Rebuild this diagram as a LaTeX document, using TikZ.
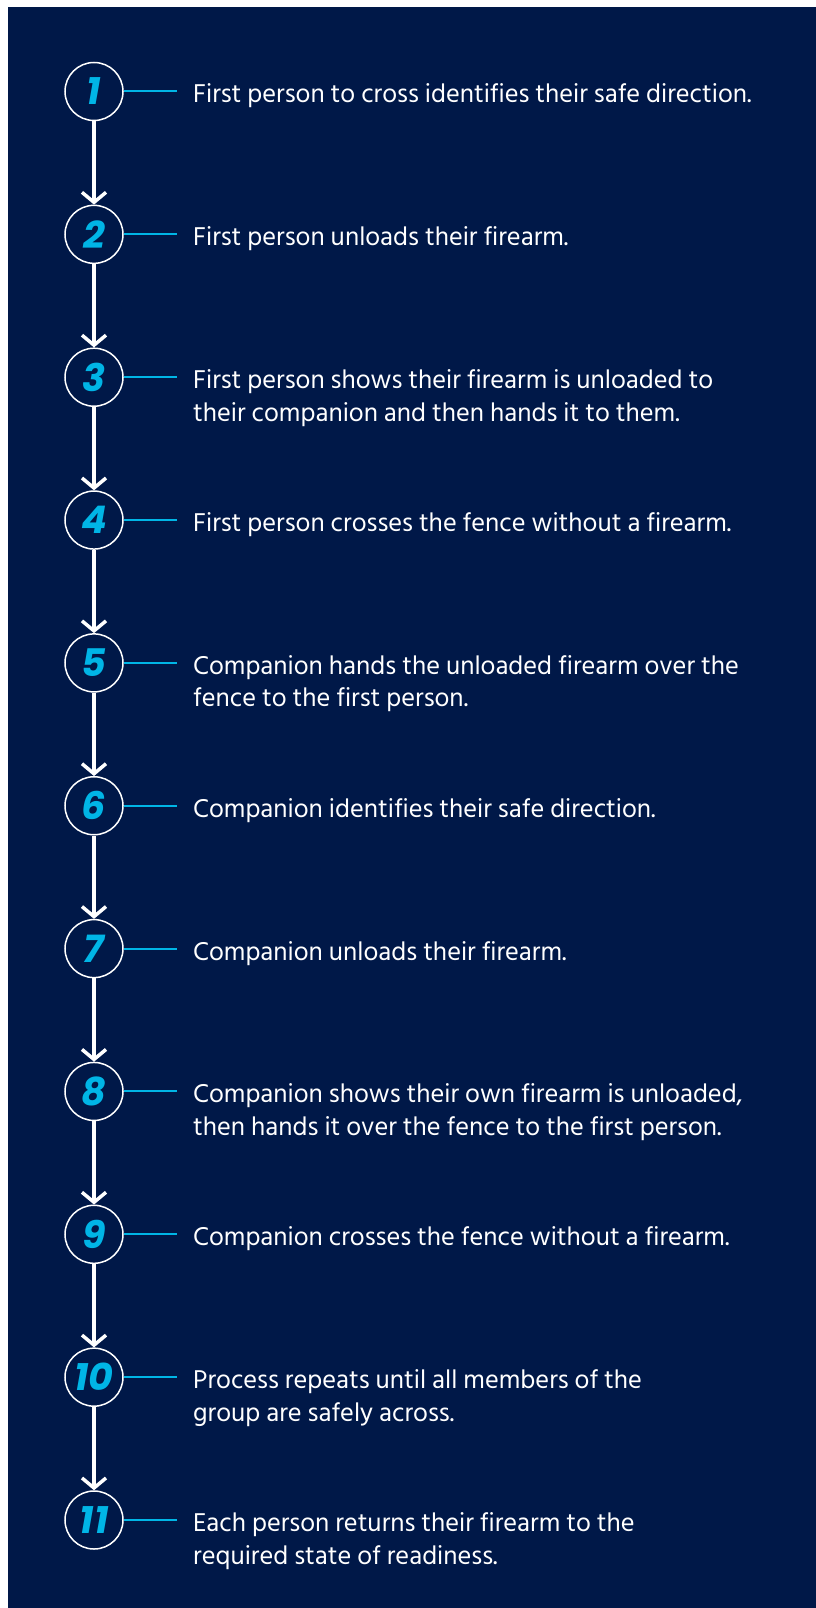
\documentclass[tikz,border=0pt]{standalone}
\usepackage{fontspec}
\setmainfont{Hind Siliguri}
\newfontfamily\numfont{Poppins}
\usetikzlibrary{arrows.meta}
\definecolor{navy}{HTML}{001848}
\definecolor{cyanc}{HTML}{00B5E6}
\newcommand{\twolines}[2]{\begin{tabular}[t]{@{}l@{}}#1\\#2\end{tabular}}
\begin{document}
\begin{tikzpicture}[x=1pt,y=-1pt,
  stepnum/.style={circle, draw=white, line width=1.5pt, fill=navy, minimum size=58pt, inner sep=0pt, text=cyanc, font=\numfont\bfseries\itshape\fontsize{38}{38}\selectfont},
  steptext/.style={anchor=base west, text=white, inner sep=0pt, font=\fontsize{26.4}{32.5}\selectfont},
  link/.style={cyanc, line width=2pt},
  flow/.style={white, line width=3.5pt, -{Straight Barb[length=10pt,width=24pt]}}]
\useasboundingbox (0,0) rectangle (816,1608);
\fill[navy] (8,7) rectangle (816,1608);
\foreach \n/\t in {
  1/{First person to cross identifies their safe direction.},
  2/{First person unloads their firearm.},
  3/{\twolines{First person shows their firearm is unloaded to}{their companion and then hands it to them.}},
  4/{First person crosses the fence without a firearm.},
  5/{\twolines{Companion hands the unloaded firearm over the}{fence to the first person.}},
  6/{Companion identifies their safe direction.},
  7/{Companion unloads their firearm.},
  8/{\twolines{Companion shows their own firearm is unloaded,}{then hands it over the fence to the first person.}},
  9/{Companion crosses the fence without a firearm.},
  10/{\twolines{Process repeats until all members of the}{group are safely across.}},
  11/{\twolines{Each person returns their firearm to the}{required state of readiness.}}}{
  \pgfmathsetmacro{\cy}{91.5+142.85*(\n-1)}
  \node[stepnum] (s\n) at (94,\cy) {\n};
  \coordinate (e\n) at (177,\cy);
  \draw[link] (s\n.east) -- (e\n);
  \node[steptext] (t\n) at (193,\cy+11.5) {\t};
}
\foreach \a/\b in {1/2,2/3,3/4,4/5,5/6,6/7,7/8,8/9,9/10,10/11}{
  \draw[flow] (s\a) -- (s\b);
}
\end{tikzpicture}
\end{document}
